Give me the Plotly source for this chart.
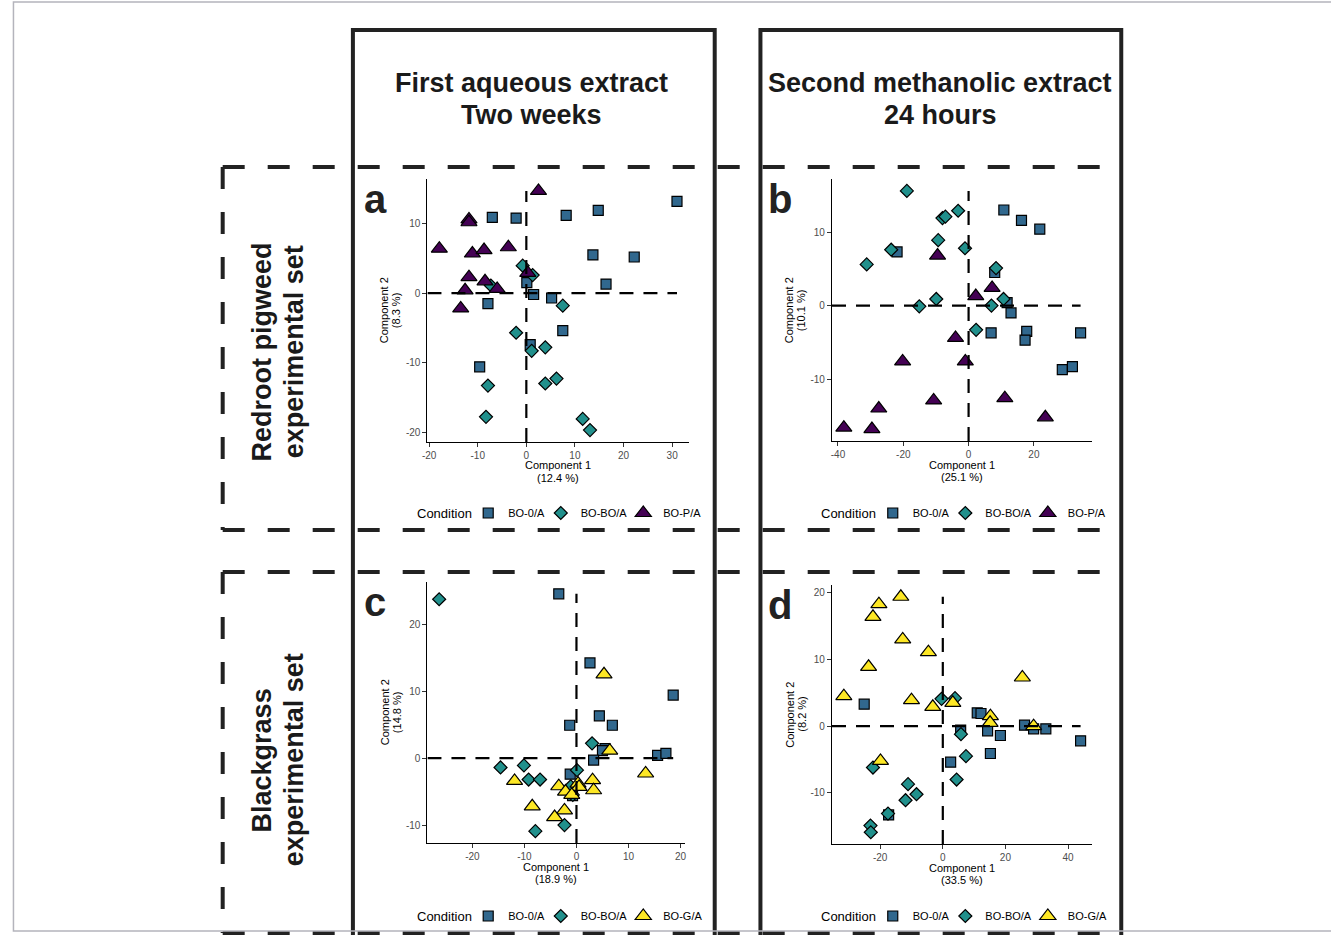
import plotly.graph_objects as go
import numpy as np

W, H = 1331, 935
FONT = "Liberation Sans, Arial, sans-serif"

# ---------------- data ----------------
# Panel a : Redroot pigweed, first aqueous extract (two weeks)
a_bo0_x = [31.0, 14.8, 8.2, -7.0, -2.1, 13.7, 22.2, 16.4, 0.1, 1.5, 5.2, -7.9, 7.5, 0.8, -9.6]
a_bo0_y = [13.2, 11.9, 11.2, 10.9, 10.8, 5.5, 5.2, 1.3, 1.5, -0.2, -0.7, -1.5, -5.4, -7.4, -10.6]
a_bobo_x = [-0.75, 1.3, -7.3, 7.5, -2.1, 1.1, 3.9, 6.2, 3.9, -7.9, -8.3, 11.6, 13.1]
a_bobo_y = [3.95, 2.6, 1.1, -1.8, -5.7, -8.3, -7.8, -12.3, -13.0, -13.3, -17.8, -18.1, -19.7]
a_bop_x = [2.5, -11.8, -11.8, -17.9, -11.1, -8.7, -3.7, -11.8, -8.5, 0.3, -12.6, -6.0, -13.5]
a_bop_y = [14.7, 10.6, 10.2, 6.4, 5.7, 6.2, 6.6, 2.3, 1.7, 2.9, 0.4, 0.6, -2.2]

# Panel b : Redroot pigweed, second methanolic extract (24 hours)
b_bo0_x = [10.8, 16.2, 21.8, -21.9, 8.0, 11.8, 13.0, 6.9, 17.8, 17.3, 34.3, 28.7, 31.8]
b_bo0_y = [13.0, 11.6, 10.4, 7.3, 4.5, 0.4, -1.0, -3.7, -3.5, -4.7, -3.7, -8.7, -8.3]
b_bobo_x = [-18.9, -8.0, -7.1, -3.2, -9.3, -23.7, -1.1, -31.2, 8.4, -9.9, 10.7, -15.1, 7.0, 2.3]
b_bobo_y = [15.6, 11.9, 12.1, 12.9, 8.9, 7.6, 7.8, 5.6, 5.1, 0.9, 0.9, -0.1, 0.0, -3.3]
b_bop_x = [-9.5, 7.2, 2.2, -4.0, -20.2, -1.0, -10.7, 11.1, 23.5, -27.5, -38.2, -29.6]
b_bop_y = [6.8, 2.4, 1.3, -4.4, -7.6, -7.6, -12.9, -12.6, -15.2, -14.0, -16.6, -16.8]

# Panel c : Blackgrass, first aqueous extract (two weeks)
c_bo0_x = [-3.4, 2.6, 18.6, 4.4, -1.3, 6.9, 5.5, 5.0, 15.6, 17.2, 3.3, -1.2, -0.75]
c_bo0_y = [24.5, 14.2, 9.4, 6.3, 4.9, 4.9, 1.4, 1.1, 0.4, 0.7, -0.3, -2.4, -5.6]
c_bobo_x = [-26.4, 3.0, 0.1, -14.6, -10.1, -9.2, -7.0, -1.1, -0.7, -2.3, -7.9]
c_bobo_y = [23.7, 2.2, -1.8, -1.4, -1.1, -3.2, -3.2, -4.2, -5.5, -10.0, -10.9]
c_bog_x = [5.3, 6.4, 13.3, -11.9, 3.1, 3.3, -3.4, -2.1, 0.3, 0.5, -0.9, -8.5, -2.3, -4.2]
c_bog_y = [12.5, 1.1, -2.3, -3.4, -3.3, -4.8, -4.2, -5.0, -3.8, -4.3, -5.5, -7.2, -7.8, -8.8]

# Panel d : Blackgrass, second methanolic extract (24 hours)
d_bo0_x = [-25.1, 11.0, 12.2, 5.7, 14.3, 18.4, 26.1, 29.0, 32.9, 44.0, 15.2, 2.5, -17.3]
d_bo0_y = [3.3, 2.0, 1.9, -0.6, -0.7, -1.4, 0.15, -0.4, -0.4, -2.2, -4.1, -5.4, -13.3]
d_bobo_x = [-0.4, 3.9, 5.8, 7.4, 4.4, -22.3, -11.1, -8.4, -11.9, -17.5, -23.1, -23.0]
d_bobo_y = [4.1, 4.2, -1.2, -4.5, -8.0, -6.2, -8.7, -10.2, -11.1, -13.1, -14.9, -15.9]
d_bog_x = [-13.4, -20.4, -22.3, -12.8, -4.6, -23.7, 25.4, -31.6, -10.0, -3.2, 3.2, 15.2, 15.1, 29.0, -19.9]
d_bog_y = [19.4, 18.3, 16.4, 13.0, 11.1, 8.9, 7.3, 4.5, 3.9, 2.9, 3.5, 1.5, 0.5, 0.0, -5.2]

pc1_labels = ["12.4", "25.1", "18.9", "33.5"]
pc2_labels = ["8.3", "10.1", "14.8", "8.2"]
panel_letters = ["a", "b", "c", "d"]
col_titles = [["First aqueous extract", "Two weeks"], ["Second methanolic extract", "24 hours"]]
row_titles = [["Redroot pigweed", "experimental set"], ["Blackgrass", "experimental set"]]
cond_top = ["BO-0/A", "BO-BO/A", "BO-P/A"]
cond_bot = ["BO-0/A", "BO-BO/A", "BO-G/A"]
legend_title = "Condition"

C_BO0 = "#31688E"
C_BOBO = "#21908C"
C_BOP = "#440154"
C_BOG = "#FDE725"

panels = [
    dict(series=[(a_bo0_x, a_bo0_y), (a_bobo_x, a_bobo_y), (a_bop_x, a_bop_y)], names=cond_top,
         colors=[C_BO0, C_BOBO, C_BOP], px=(424, 687), py=(179, 442), dx=10, dy=10),
    dict(series=[(b_bo0_x, b_bo0_y), (b_bobo_x, b_bobo_y), (b_bop_x, b_bop_y)], names=cond_top,
         colors=[C_BO0, C_BOBO, C_BOP], px=(831, 1093), py=(179, 441), dx=20, dy=10),
    dict(series=[(c_bo0_x, c_bo0_y), (c_bobo_x, c_bobo_y), (c_bog_x, c_bog_y)], names=cond_bot,
         colors=[C_BO0, C_BOBO, C_BOG], px=(424, 683), py=(582, 843), dx=10, dy=10),
    dict(series=[(d_bo0_x, d_bo0_y), (d_bobo_x, d_bobo_y), (d_bog_x, d_bog_y)], names=cond_bot,
         colors=[C_BO0, C_BOBO, C_BOG], px=(831, 1093), py=(585, 844), dx=20, dy=10),
]
symbols = ["square", "diamond", "triangle-up"]
sizes = [10, 10, 14]
# legend layout per panel: (title centre x, row y, x offset of the legend block)
legend_rows = [(441, 513, 0), (848, 513, 407), (441, 916, 0), (848, 916, 407)]
legend_symbol_x = [485, 558, 641]


def fx(p):
    return p / W


def fy(p):
    return 1 - p / H


fig = go.Figure()
layout = dict(
    width=W, height=H, margin=dict(l=0, r=0, t=0, b=0),
    paper_bgcolor="white", plot_bgcolor="white",
    font=dict(family=FONT, color="black"),
    shapes=[], annotations=[],
)


def ann(text, x, y, size, angle=0, color="black", xanchor="center"):
    layout["annotations"].append(dict(text=text, xref="paper", yref="paper", x=fx(x), y=fy(y),
                                      xanchor=xanchor, yanchor="middle", showarrow=False,
                                      textangle=angle,
                                      font=dict(size=size, family=FONT, color=color)))


def ticks_for(rng, d):
    vals = np.arange(np.ceil(rng[0] / d) * d, rng[1] + 1e-9, d)
    return list(vals), [str(int(round(v))) for v in vals]


legend_count = 0
for i, p in enumerate(panels):
    k = "" if i == 0 else str(i + 1)
    xa, ya = "x" + k, "y" + k
    allx = np.concatenate([np.asarray(s[0]) for s in p["series"]])
    ally = np.concatenate([np.asarray(s[1]) for s in p["series"]])
    ex = 0.05 * (allx.max() - allx.min())
    ey = 0.05 * (ally.max() - ally.min())
    xr = [allx.min() - ex, allx.max() + ex]
    yr = [ally.min() - ey, ally.max() + ey]
    tcx, ly, off = legend_rows[i]

    for j, (sx, sy) in enumerate(p["series"]):
        legend_count += 1
        lg = "legend" if legend_count == 1 else f"legend{legend_count}"
        fig.add_trace(go.Scatter(
            x=sx, y=sy, mode="markers", name=p["names"][j],
            xaxis=xa, yaxis=ya, legend=lg, showlegend=True, hoverinfo="skip",
            marker=dict(symbol=symbols[j], size=sizes[j], color=p["colors"][j],
                        line=dict(color="black", width=1.2)),
        ))
        layout[lg] = dict(orientation="h", x=fx(legend_symbol_x[j] + off - 20), y=fy(ly),
                          xanchor="left", yanchor="middle", bgcolor="rgba(0,0,0,0)",
                          itemwidth=30, font=dict(size=11, family=FONT, color="black"))

    common = dict(showline=True, linecolor="black", linewidth=1.2, ticks="outside", ticklen=4,
                  tickwidth=1, tickcolor="#333333", showgrid=False, zeroline=False,
                  tickfont=dict(size=10, color="#4d4d4d", family=FONT), mirror=False)
    xtv, xtt = ticks_for(xr, p["dx"])
    ytv, ytt = ticks_for(yr, p["dy"])
    layout["xaxis" + k] = dict(common, domain=[fx(p["px"][0]), fx(p["px"][1])], anchor=ya,
                               range=xr, tickmode="array", tickvals=xtv, ticktext=xtt)
    layout["yaxis" + k] = dict(common, domain=[fy(p["py"][1]), fy(p["py"][0])], anchor=xa,
                               range=yr, tickmode="array", tickvals=ytv, ticktext=ytt)
    # axis titles (two lines, tight spacing)
    cx = (p["px"][0] + p["px"][1]) / 2
    cy = (p["py"][0] + p["py"][1]) / 2
    ann("Component 1", cx, p["py"][1] + 23.5, 11)
    ann(f"({pc1_labels[i]} %)", cx, p["py"][1] + 35.5, 11)
    ann("Component 2", p["px"][0] - 43, cy, 11, angle=-90)
    ann(f"({pc2_labels[i]} %)", p["px"][0] - 31, cy, 11, angle=-90)

    # dashed reference lines at 0
    layout["shapes"].append(dict(type="line", xref=xa, yref=ya, x0=xr[0], x1=allx.max(), y0=0, y1=0,
                                 line=dict(color="black", width=2.2, dash="14px,10px")))
    layout["shapes"].append(dict(type="line", xref=xa, yref=ya, x0=0, x1=0, y0=yr[0], y1=ally.max(),
                                 line=dict(color="black", width=2.2, dash="14px,10px")))
    # panel letter
    ann(f"<b>{panel_letters[i]}</b>", p["px"][0] - 66, p["py"][0] + 20, 40, color="#222222", xanchor="left")
    # legend title
    ann(legend_title, tcx, ly, 13)

# frames
FR = "#222222"
for (x0, x1) in [(349, 713), (759, 1122)]:
    layout["shapes"].append(dict(type="rect", xref="paper", yref="paper", x0=fx(x0), x1=fx(x1),
                                 y0=fy(30), y1=fy(960), line=dict(color=FR, width=4), layer="above"))
for (y0, y1) in [(167, 530), (572, 933)]:
    for seg in [((218, y0), (1122, y0)), ((218, y0), (218, y1)), ((218, y1), (1122, y1))]:
        layout["shapes"].append(dict(type="line", xref="paper", yref="paper",
                                     x0=fx(seg[0][0]), y0=fy(seg[0][1]), x1=fx(seg[1][0]), y1=fy(seg[1][1]),
                                     line=dict(color=FR, width=4, dash="22px,23px"), layer="above"))
# thin outer border
layout["shapes"].append(dict(type="rect", xref="paper", yref="paper", x0=fx(7.5), x1=fx(1345),
                             y0=fy(931), y1=fy(2), line=dict(color="#b4b4bc", width=1.5)))

# column titles
for ci, cx in enumerate([529, 940]):
    for li, ty in enumerate([83, 115]):
        ann(f"<b>{col_titles[ci][li]}</b>", cx, ty, 27, color="#1a1a1a")
# row titles
for ri, cy in enumerate([352, 760]):
    for li, tx in enumerate([258, 290]):
        ann(f"<b>{row_titles[ri][li]}</b>", tx, cy, 27, angle=-90, color="#1a1a1a")

fig.update_layout(**layout)
fig.write_html("out.html", config={"displayModeBar": False})

# remove the browser's default page margin so the figure sits at (0, 0)
with open("out.html", "r", encoding="utf-8") as f:
    html = f.read()
html = html.replace("<body>", '<body style="margin:0;overflow:hidden">', 1)
with open("out.html", "w", encoding="utf-8") as f:
    f.write(html)
